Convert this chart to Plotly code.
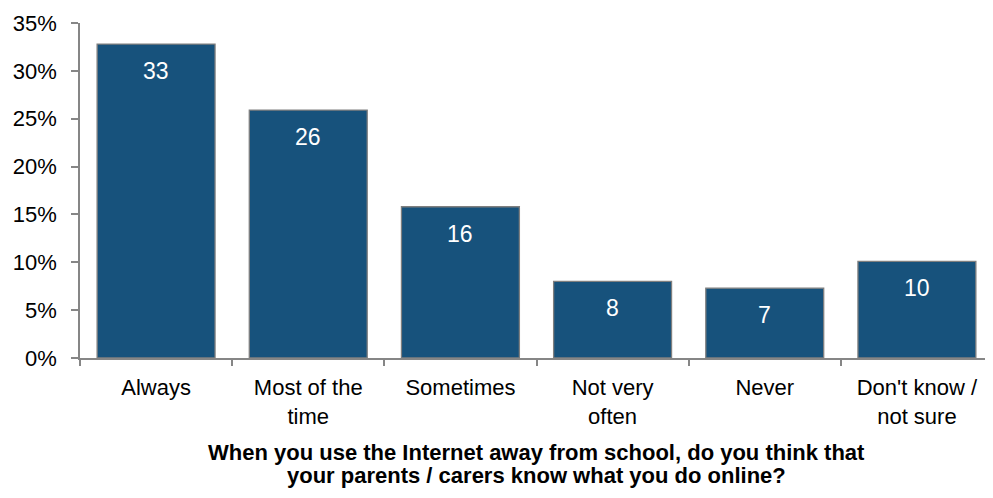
import plotly.graph_objects as go

categories = ["Always", "Most of the<br>time", "Sometimes", "Not very<br>often", "Never", "Don't know /<br>not sure"]
values = [32.8, 25.9, 15.8, 8.0, 7.3, 10.1]
labels = ["33", "26", "16", "8", "7", "10"]
y_ticks = [0, 5, 10, 15, 20, 25, 30, 35]
y_tick_text = ["0%", "5%", "10%", "15%", "20%", "25%", "30%", "35%"]
x_title_lines = ["When you use the Internet away from school, do you think that",
                 "your parents / carers know what you do online?"]

FONT = "Arial, Liberation Sans, sans-serif"
OFF = 8  # default browser body margin

fig = go.Figure()
fig.add_trace(go.Bar(
    x=categories, y=values,
    marker=dict(color="#17527C", line=dict(color="#7F7F7F", width=1.3)),
    width=0.775,
    hoverinfo="skip",
))

for c, v, t in zip(categories, values, labels):
    fig.add_annotation(x=c, y=v, text=t, showarrow=False, yanchor="middle",
                       yshift=-27, font=dict(family=FONT, size=23, color="white"))

# title lines in paper coords (plot area: bottom at 358 px page, height 335 px)
for i, line in enumerate(x_title_lines):
    yc = 452 + 23 * i
    fig.add_annotation(x=0.5, y=(358 - yc) / 335, xref="paper", yref="paper",
                       xanchor="center", yanchor="middle",
                       text="<b>" + line + "</b>", showarrow=False,
                       font=dict(family=FONT, size=22, color="black"))

fig.update_layout(
    width=993 - OFF, height=498 - OFF,
    margin=dict(l=80 - OFF, r=0, t=23 - OFF, b=140),
    plot_bgcolor="white", paper_bgcolor="white",
    showlegend=False,
    font=dict(family=FONT, size=22, color="black"),
    bargap=0.225,
)
fig.update_xaxes(
    showline=True, linecolor="#868686", linewidth=1.5,
    ticks="outside", tickson="boundaries", ticklen=6, tickcolor="#868686", tickwidth=1.5,
    tickfont=dict(family=FONT, size=22, color="black"),
    ticklabelstandoff=9,
    showgrid=False, zeroline=False, automargin=False,
)
fig.update_yaxes(
    range=[0, 35], tickvals=y_ticks, ticktext=y_tick_text,
    showline=True, linecolor="#868686", linewidth=1.5,
    ticks="outside", ticklen=7, tickcolor="#868686", tickwidth=1.5,
    tickfont=dict(family=FONT, size=22, color="black"),
    ticklabelstandoff=10,
    showgrid=False, zeroline=False, automargin=False,
)

fig.write_html("out.html")
